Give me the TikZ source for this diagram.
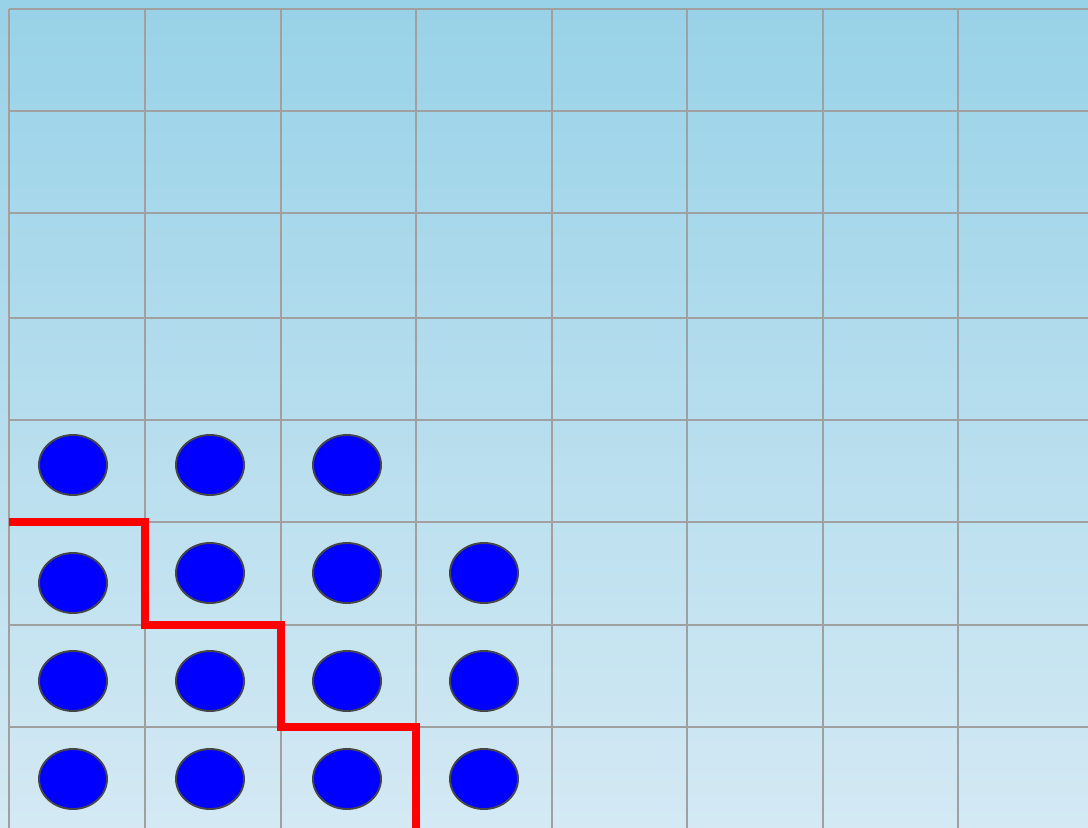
\documentclass[tikz,border=0pt]{standalone}
\definecolor{bgtop}{RGB}{152,210,232}
\definecolor{bgbot}{RGB}{212,233,244}
\definecolor{gridgray}{RGB}{160,160,160}
\definecolor{dotblue}{RGB}{0,0,255}
\definecolor{dotedge}{RGB}{70,70,70}
\definecolor{stairred}{RGB}{255,0,0}
\tikzset{
  gridline/.style={draw=gridgray, line width=1.8pt},
  token/.style={ellipse, draw=dotedge, fill=dotblue, line width=1.9pt, minimum width=68pt, minimum height=60pt, inner sep=0pt},
  stair/.style={draw=stairred, line width=7.2pt, line join=miter}
}
\usetikzlibrary{shapes.geometric}
\begin{document}
\begin{tikzpicture}[x=1pt,y=-1pt]
\useasboundingbox (0,0) rectangle (1088,828);
\shade[top color=bgtop, bottom color=bgbot] (0,0) rectangle (1088,828);
% grid
\foreach \x in {9,145,281,416,552,687,823,958} {
  \draw[gridline] (\x,9) -- (\x,830);
}
\foreach \y in {9,111,213,318,420,522,625,727} {
  \draw[gridline] (9,\y) -- (1090,\y);
}
% tokens
\node[token] (r4c0) at (73,465) {};
\node[token] (r4c1) at (210,465) {};
\node[token] (r4c2) at (347,465) {};
\node[token] (r5c0) at (73,583) {};
\node[token] (r5c1) at (210,573) {};
\node[token] (r5c2) at (347,573) {};
\node[token] (r5c3) at (484,573) {};
\node[token] (r6c0) at (73,681) {};
\node[token] (r6c1) at (210,681) {};
\node[token] (r6c2) at (347,681) {};
\node[token] (r6c3) at (484,681) {};
\node[token] (r7c0) at (73,779) {};
\node[token] (r7c1) at (210,779) {};
\node[token] (r7c2) at (347,779) {};
\node[token] (r7c3) at (484,779) {};
% staircase
\coordinate (s0) at (9,522);
\coordinate (s1) at (145,522);
\coordinate (s2) at (145,625);
\coordinate (s3) at (281,625);
\coordinate (s4) at (281,727);
\coordinate (s5) at (416,727);
\coordinate (s6) at (416,832);
\draw[stair] (s0) -- (s1) -- (s2) -- (s3) -- (s4) -- (s5) -- (s6);
\end{tikzpicture}
\end{document}
